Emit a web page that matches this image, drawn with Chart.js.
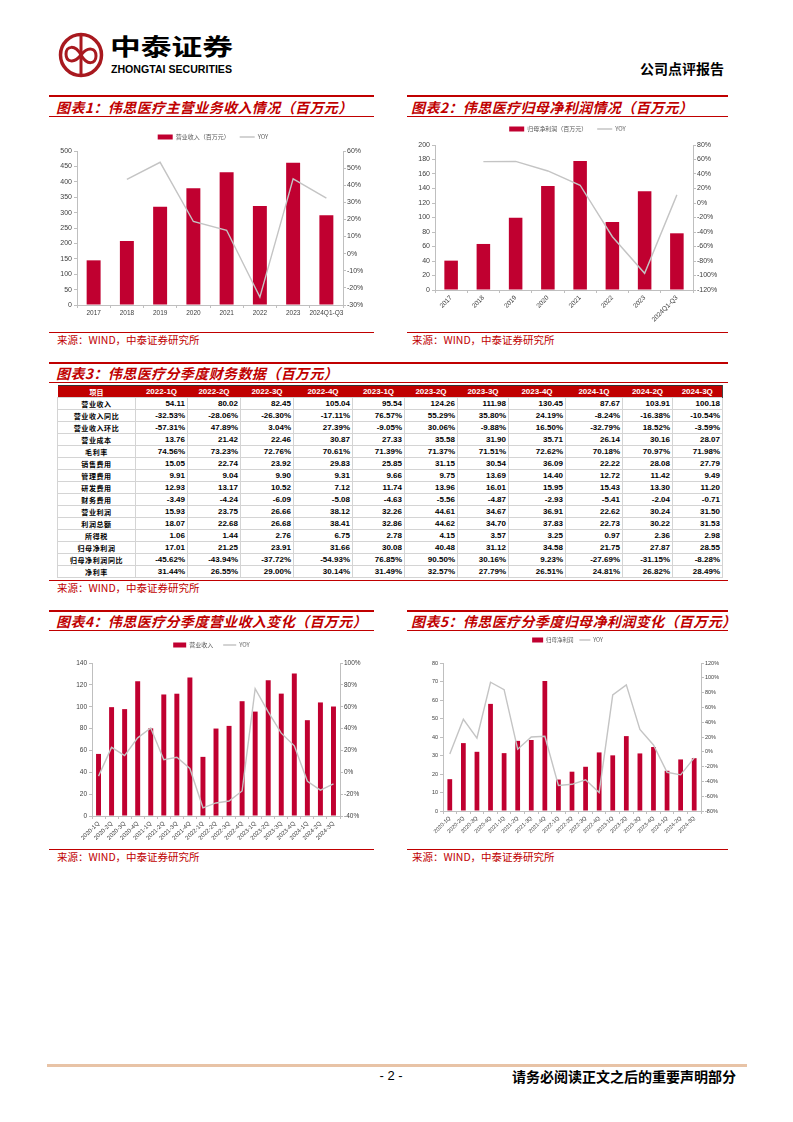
<!DOCTYPE html>
<html lang="zh-CN">
<head>
<meta charset="utf-8">
<title>伟思医疗 公司点评报告</title>
<script src="https://cdn.jsdelivr.net/npm/chart.js@4.4.1/dist/chart.umd.min.js"></script>
<style>
  body { margin: 0; background: #fff; }
  #page { position: relative; width: 793px; height: 1122px; overflow: hidden; font-family: 'Noto Sans CJK SC', sans-serif; }
  .abs { position: absolute; }
  .ttl { position: absolute; font-size: 14px; font-weight: bold; font-style: italic; color: #c00000; line-height: 18px; white-space: nowrap; letter-spacing: 0.4px; }
  .rl { position: absolute; background: #c00000; }
  .src { position: absolute; font-size: 10.5px; color: #c00000; line-height: 12px; white-space: nowrap; }
  .box { position: absolute; }
  #tbl { position: absolute; left: 57px; top: 385px; width: 665px; border-collapse: collapse; table-layout: fixed; }
  #tbl th { background: #c00000; color: #fff; font: bold 8px 'Liberation Sans', sans-serif; height: 11px; padding: 0; border-top: 1px solid #333; text-align: center; }
  #tbl th.item { font-family: 'Noto Sans CJK SC'; font-size: 7px; }
  #tbl td { font: bold 8px 'Liberation Sans', sans-serif; color: #000; height: 11px; padding: 0 2px 0 0; border: 1px solid #d4d4d4; text-align: right; line-height: 10px; white-space: nowrap; }
  #tbl td.item { font-family: 'Noto Sans CJK SC'; font-size: 7px; text-align: center; letter-spacing: 0.6px; padding: 0; }
</style>
</head>
<body>
<div id="page">

  <!-- header -->
  <svg class="abs" style="left:0;top:0" width="793" height="95">
    <circle cx="81" cy="55" r="20.5" fill="none" stroke="#a8191f" stroke-width="3.5"/>
    <line x1="81" y1="36" x2="81" y2="74" stroke="#a8191f" stroke-width="3"/>
    <path d="M81 55 C75 44,66 46,66 54 C66 62,74 64,81 55 C88 46,96 48,96 56 C96 64,87 66,81 55" fill="none" stroke="#a8191f" stroke-width="3"/>
    <text x="110" y="55" font-size="23" font-weight="bold" font-family="Noto Sans CJK SC" textLength="123" lengthAdjust="spacingAndGlyphs">中泰证券</text>
    <text x="111" y="73" font-size="10.5" font-weight="bold" font-family="Liberation Sans" textLength="121" lengthAdjust="spacingAndGlyphs">ZHONGTAI SECURITIES</text>
    <text x="640" y="74" font-size="14" font-weight="bold" font-family="Noto Sans CJK SC">公司点评报告</text>
  </svg>

  <!-- chart 1 -->
  <div class="rl" style="left:49px;top:95px;width:325px;height:2px"></div>
  <div class="ttl" style="left:56px;top:98px">图表1：伟思医疗主营业务收入情况（百万元）</div>
  <div class="rl" style="left:49px;top:116px;width:325px;height:1px"></div>
  <div class="box" style="left:48px;top:118px"><canvas id="c1" width="330" height="212"></canvas></div>
  <div class="rl" style="left:49px;top:332px;width:325px;height:1px"></div>
  <div class="src" style="left:57px;top:334px">来源：WIND，中泰证券研究所</div>

  <!-- chart 2 -->
  <div class="rl" style="left:407px;top:95px;width:321px;height:2px"></div>
  <div class="ttl" style="left:411px;top:98px">图表2：伟思医疗归母净利润情况（百万元）</div>
  <div class="rl" style="left:407px;top:116px;width:321px;height:1px"></div>
  <div class="box" style="left:407px;top:112px"><canvas id="c2" width="321" height="218"></canvas></div>
  <div class="rl" style="left:407px;top:332px;width:321px;height:1px"></div>
  <div class="src" style="left:412px;top:334px">来源：WIND，中泰证券研究所</div>

  <!-- table -->
  <div class="rl" style="left:49px;top:362px;width:679px;height:2px"></div>
  <div class="ttl" style="left:56px;top:364px">图表3：伟思医疗分季度财务数据（百万元）</div>
  <div class="rl" style="left:49px;top:382px;width:679px;height:1px"></div>
  <table id="tbl"></table>
  <div class="rl" style="left:49px;top:580px;width:679px;height:1px"></div>
  <div class="src" style="left:57px;top:582px">来源：WIND，中泰证券研究所</div>

  <!-- chart 4 -->
  <div class="rl" style="left:49px;top:610px;width:325px;height:2px"></div>
  <div class="ttl" style="left:56px;top:612px">图表4：伟思医疗分季度营业收入变化（百万元）</div>
  <div class="rl" style="left:49px;top:630px;width:325px;height:1px"></div>
  <div class="box" style="left:48px;top:632px"><canvas id="c4" width="327" height="216"></canvas></div>
  <div class="rl" style="left:49px;top:849px;width:325px;height:1px"></div>
  <div class="src" style="left:57px;top:851px">来源：WIND，中泰证券研究所</div>

  <!-- chart 5 -->
  <div class="rl" style="left:407px;top:610px;width:321px;height:2px"></div>
  <div class="ttl" style="left:411px;top:612px">图表5：伟思医疗分季度归母净利润变化（百万元）</div>
  <div class="rl" style="left:407px;top:630px;width:321px;height:1px"></div>
  <div class="box" style="left:407px;top:627px"><canvas id="c5" width="321" height="221"></canvas></div>
  <div class="rl" style="left:407px;top:849px;width:321px;height:1px"></div>
  <div class="src" style="left:412px;top:851px">来源：WIND，中泰证券研究所</div>

  <!-- footer -->
  <div class="abs" style="left:47px;top:1064px;width:700px;height:3px;background:#e8c3a6"></div>
  <div class="abs" style="left:371px;top:1068px;width:40px;text-align:center;font:13px 'Liberation Sans';line-height:16px">- 2 -</div>
  <div class="abs" style="left:512px;top:1067px;font-size:14px;font-weight:bold;line-height:18px;white-space:nowrap">请务必阅读正文之后的重要声明部分</div>
</div>

<script>
// ---- data ----
const years = ['2017', '2018', '2019', '2020', '2021', '2022', '2023', '2024Q1-Q3'];
const revenueYear = [145, 208, 319, 379, 431, 321.6, 462.2, 291.8];
const revenueYearYoy = [null, 43.4, 53.4, 18.8, 13.7, -25.4, 43.7, 32.5];
const profitYear = [40.5, 63.5, 99.5, 143.4, 177.8, 93.8, 136.3, 78.2];
const profitYearYoy = [null, 57.1, 57.4, 44.2, 24.5, -46.5, -97, 11.2];

const quarters = ['2020-1Q', '2020-2Q', '2020-3Q', '2020-4Q', '2021-1Q', '2021-2Q', '2021-3Q', '2021-4Q',
  '2022-1Q', '2022-2Q', '2022-3Q', '2022-4Q', '2023-1Q', '2023-2Q', '2023-3Q', '2023-4Q',
  '2024-1Q', '2024-2Q', '2024-3Q'];
const revenueQ = [56.8, 99.6, 97.8, 123.4, 80.2, 111.2, 111.9, 126.7, 54.11, 80.02, 82.45, 105.04,
  95.54, 124.26, 111.98, 130.45, 87.67, 103.91, 100.18];
const revenueQYoy = [-3.5, 22.8, 15.2, 31.5, 40.5, 11.5, 13.8, 3.5, -32.53, -28.06, -26.30, -17.11,
  76.57, 55.29, 35.80, 24.19, -8.24, -16.38, -10.54];
const profitQ = [17.2, 36.7, 32.0, 57.9, 31.28, 37.91, 38.39, 70.25, 17.01, 21.25, 23.91, 31.66,
  30.08, 40.48, 31.12, 34.58, 21.75, 27.87, 28.55];
const profitQYoy = [-3, 44, 18.6, 94, 84, 3.5, 20, 21, -45.62, -43.94, -37.72, -54.93,
  76.85, 90.50, 30.16, 9.23, -27.69, -31.15, -8.28];

const tableCols = ['2022-1Q', '2022-2Q', '2022-3Q', '2022-4Q', '2023-1Q', '2023-2Q', '2023-3Q', '2023-4Q', '2024-1Q', '2024-2Q', '2024-3Q'];
const tableItems = ['营业收入', '营业收入同比', '营业收入环比', '营业成本', '毛利率', '销售费用', '管理费用', '研发费用',
  '财务费用', '营业利润', '利润总额', '所得税', '归母净利润', '归母净利润同比', '净利率'];
const tableValues = [
  ['54.11', '80.02', '82.45', '105.04', '95.54', '124.26', '111.98', '130.45', '87.67', '103.91', '100.18'],
  ['-32.53%', '-28.06%', '-26.30%', '-17.11%', '76.57%', '55.29%', '35.80%', '24.19%', '-8.24%', '-16.38%', '-10.54%'],
  ['-57.31%', '47.89%', '3.04%', '27.39%', '-9.05%', '30.06%', '-9.88%', '16.50%', '-32.79%', '18.52%', '-3.59%'],
  ['13.76', '21.42', '22.46', '30.87', '27.33', '35.58', '31.90', '35.71', '26.14', '30.16', '28.07'],
  ['74.56%', '73.23%', '72.76%', '70.61%', '71.39%', '71.37%', '71.51%', '72.62%', '70.18%', '70.97%', '71.98%'],
  ['15.05', '22.74', '23.92', '29.83', '25.85', '31.15', '30.54', '36.09', '22.22', '28.08', '27.79'],
  ['9.91', '9.04', '9.90', '9.31', '9.66', '9.75', '13.69', '14.40', '12.72', '11.42', '9.49'],
  ['12.93', '13.17', '10.52', '7.12', '11.74', '13.96', '16.01', '15.95', '15.43', '13.30', '11.20'],
  ['-3.49', '-4.24', '-6.09', '-5.08', '-4.63', '-5.56', '-4.87', '-2.93', '-5.41', '-2.04', '-0.71'],
  ['15.93', '23.75', '26.66', '38.12', '32.26', '44.61', '34.67', '36.91', '22.62', '30.24', '31.50'],
  ['18.07', '22.68', '26.68', '38.41', '32.86', '44.62', '34.70', '37.83', '22.73', '30.22', '31.53'],
  ['1.06', '1.44', '2.76', '6.75', '2.78', '4.15', '3.57', '3.25', '0.97', '2.36', '2.98'],
  ['17.01', '21.25', '23.91', '31.66', '30.08', '40.48', '31.12', '34.58', '21.75', '27.87', '28.55'],
  ['-45.62%', '-43.94%', '-37.72%', '-54.93%', '76.85%', '90.50%', '30.16%', '9.23%', '-27.69%', '-31.15%', '-8.28%'],
  ['31.44%', '26.55%', '29.00%', '30.14%', '31.49%', '32.57%', '27.79%', '26.51%', '24.81%', '26.82%', '28.49%']
];
const colWidths = [78, 52, 53, 53, 59, 52, 53, 51, 57, 57, 50, 50];

// ---- styles ----
const RED = '#c00030';
const GREY = '#c4c4c4';
const AXIS = '#bfbfbf';
const TICK = '#404040';
const CJK = "'Noto Sans CJK SC', sans-serif";
const SANS = "'Liberation Sans', Arial, sans-serif";

// ---- table ----
(function buildTable() {
  const t = document.getElementById('tbl');
  let html = '<colgroup>' + colWidths.map(w => '<col style="width:' + w + 'px">').join('') + '</colgroup>';
  html += '<tr><th class="item">项目</th>' + tableCols.map(c => '<th>' + c + '</th>').join('') + '</tr>';
  tableItems.forEach((name, i) => {
    html += '<tr><td class="item">' + name + '</td>' + tableValues[i].map(v => '<td>' + v + '</td>').join('') + '</tr>';
  });
  t.innerHTML = html;
  t.querySelector('tr th:last-child').style.borderRight = '1px solid #444';
})();

// extra space under the legend (legend.fit has no option for it)
const legendGap = {
  id: 'legendGap',
  beforeInit(chart, args, opts) {
    const fit = chart.legend.fit;
    chart.legend.fit = function () {
      fit.call(this);
      this.height += opts.extra || 0;
    };
  }
};

// ---- charts ----
function combo(id, o) {
  const axisGrid = { drawOnChartArea: false, tickLength: 3, color: AXIS };
  return new Chart(document.getElementById(id), {
    type: 'bar',
    plugins: [legendGap],
    data: {
      labels: o.labels,
      datasets: [
        { label: o.barName, data: o.bars, backgroundColor: RED, yAxisID: 'y', order: 2,
          barPercentage: o.barPct, categoryPercentage: 1 },
        { type: 'line', label: 'YOY', data: o.yoy, yAxisID: 'y1', order: 1,
          borderColor: GREY, backgroundColor: GREY, borderWidth: 1.4, pointRadius: 0, tension: 0 }
      ]
    },
    options: {
      responsive: false,
      animation: false,
      layout: { padding: { top: o.padTop, left: 0, right: 0, bottom: 0 } },
      plugins: {
        tooltip: { enabled: false },
        legendGap: { extra: o.legendExtra },
        legend: {
          position: 'top',
          labels: {
            usePointStyle: true, pointStyleWidth: o.boxW, boxHeight: 5, padding: o.legendPad,
            font: { family: CJK, size: o.legendFont }, color: '#595959',
            generateLabels: chart => chart.data.datasets.map((ds, i) => ({
              text: ds.label, datasetIndex: i, hidden: false, fontColor: '#595959',
              fillStyle: ds.type === 'line' ? 'rgba(0,0,0,0)' : ds.backgroundColor,
              strokeStyle: ds.type === 'line' ? ds.borderColor : ds.backgroundColor,
              lineWidth: ds.type === 'line' ? 1.5 : 0,
              pointStyle: ds.type === 'line' ? 'line' : 'rect'
            }))
          }
        }
      },
      scales: {
        x: {
          offset: true,
          grid: Object.assign({ offset: true }, axisGrid),
          border: { color: AXIS },
          ticks: { font: { family: SANS, size: o.xFont }, color: TICK, autoSkip: false,
            maxRotation: o.rot, minRotation: o.rot, padding: 1 },
          afterFit: s => { s.height = o.xH; }
        },
        y: {
          position: 'left', min: o.yMin, max: o.yMax,
          grid: axisGrid, border: { color: AXIS },
          ticks: { stepSize: o.yStep, font: { family: SANS, size: o.yFont }, color: TICK, padding: 2 },
          afterFit: s => { s.width = o.yW; }
        },
        y1: {
          position: 'right', min: o.rMin, max: o.rMax,
          grid: axisGrid, border: { color: AXIS },
          ticks: { stepSize: o.rStep, font: { family: SANS, size: o.yFont }, color: TICK, padding: 1,
            callback: v => v + '%' },
          afterFit: s => { s.width = o.rW; }
        }
      }
    }
  });
}

combo('c1', {
  labels: years, bars: revenueYear, yoy: revenueYearYoy, barName: '营业收入（百万元）',
  barPct: 0.42, padTop: 6, legendPad: 10, legendExtra: 1, legendFont: 6, boxW: 15,
  xFont: 6.5, rot: 0, xH: 25,
  yMin: 0, yMax: 500, yStep: 50, yW: 29,
  rMin: -30, rMax: 60, rStep: 10, rW: 35, yFont: 7
});

combo('c2', {
  labels: years, bars: profitYear, yoy: profitYearYoy, barName: '归母净利润（百万元）',
  barPct: 0.42, padTop: 4, legendPad: 10, legendExtra: 3, legendFont: 6, boxW: 15,
  xFont: 6.5, rot: 45, xH: 40,
  yMin: 0, yMax: 200, yStep: 20, yW: 28,
  rMin: -120, rMax: 80, rStep: 20, rW: 35, yFont: 7
});

combo('c4', {
  labels: quarters, bars: revenueQ, yoy: revenueQYoy, barName: '营业收入',
  barPct: 0.38, padTop: 0, legendPad: 10, legendExtra: 5, legendFont: 6, boxW: 13,
  xFont: 6, rot: 45, xH: 32,
  yMin: 0, yMax: 140, yStep: 20, yW: 44,
  rMin: -40, rMax: 100, rStep: 20, rW: 35, yFont: 6.5
});

combo('c5', {
  labels: quarters, bars: profitQ, yoy: profitQYoy, barName: '归母净利润',
  barPct: 0.35, padTop: 4.25, legendPad: 6, legendExtra: 10.25, legendFont: 5.5, boxW: 11,
  xFont: 5.5, rot: 45, xH: 37,
  yMin: 0, yMax: 80, yStep: 10, yW: 36,
  rMin: -80, rMax: 120, rStep: 20, rW: 27, yFont: 5.5
});
</script>
</body>
</html>
